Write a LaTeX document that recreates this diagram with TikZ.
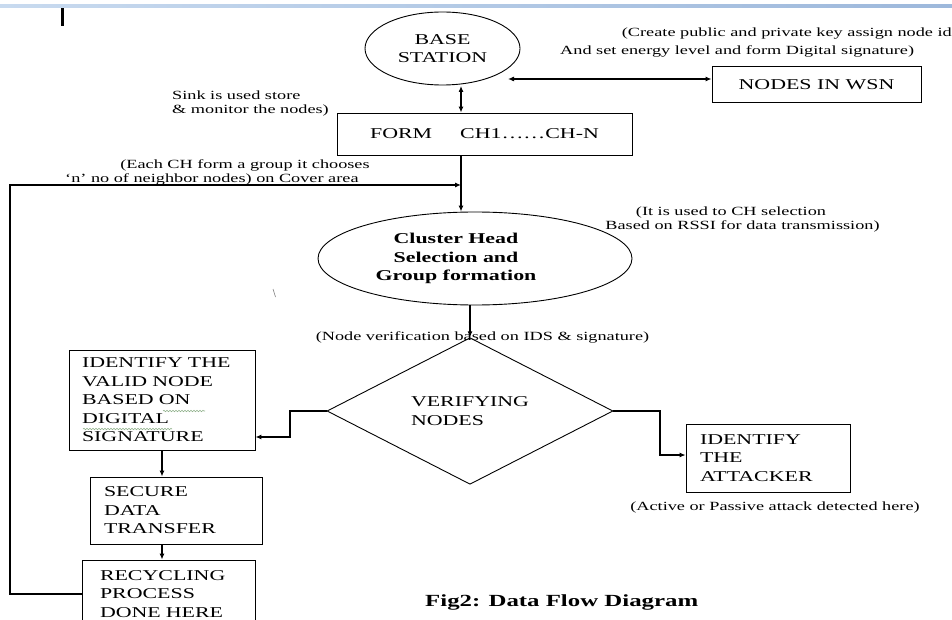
\documentclass[tikz,border=0pt]{standalone}
\usepackage{fontspec}
\setmainfont{Liberation Serif}[FakeStretch=1.46]
\usetikzlibrary{shapes.geometric,arrows.meta,decorations.pathmorphing}
\newcommand\bodytxt{\fontsize{15pt}{18.5pt}\selectfont}
\newcommand\smalltxt{\fontsize{12.5pt}{14pt}\selectfont}
\newcommand\titletxt{\fontsize{17pt}{20pt}\selectfont\bfseries}
\definecolor{bandL}{HTML}{C8DAEF}
\definecolor{bandR}{HTML}{9DB8DB}
\definecolor{squig}{HTML}{8FB08A}
\begin{document}
\begin{tikzpicture}[x=1pt,y=-1pt,
  box/.style={draw, line width=0.9pt, inner sep=0pt, font=\bodytxt},
  ell/.style={draw, ellipse, line width=0.9pt, inner sep=0pt, align=center, font=\bodytxt},
  ann/.style={inner sep=0pt, font=\smalltxt},
  conn/.style={line width=1.1pt},
  arr/.style={conn, -{Latex[length=6pt,width=5pt]}},
  darr/.style={conn, {Latex[length=6pt,width=5pt]}-{Latex[length=6pt,width=5pt]}}]
\useasboundingbox (0,0) rectangle (952,620);
% header band and mark
\shade[left color=bandL, right color=bandR] (0,4.5) rectangle (952,7.5);
\fill (61,8) rectangle (64,26);
\draw[gray, line width=0.6pt] (273,289) -- (275.5,297);
% nodes
\node[ell, minimum width=155pt, minimum height=73pt] (base) at (442.5,48.5) {BASE\\STATION};
\node[box, minimum width=209pt, minimum height=36pt] (wsn) at (816.5,84.5) {NODES IN WSN};
\node[box, minimum width=295pt, minimum height=42pt] (form) at (484.5,134) {FORM\hspace{28pt}CH1……CH-N};
\node[ell, font=\bodytxt\bfseries, minimum width=314pt, minimum height=93pt] (cluster) at (475,258.5)
  {\begin{tabular}{@{}c@{\hspace{38pt}}}Cluster Head\\Selection and\\Group formation\end{tabular}};
\node[diamond, draw, line width=0.9pt, inner sep=0pt, align=left, font=\bodytxt,
  minimum width=286pt, minimum height=98pt] (verify) at (470,411) {VERIFYING\\NODES};
\node[box, minimum width=186pt, minimum height=100pt, text width=160pt, align=left] (valid) at (162,400)
  {IDENTIFY THE\\VALID NODE\\BASED ON\\DIGITAL\\SIGNATURE};
\node[box, minimum width=172pt, minimum height=67pt, text width=144pt, align=left] (secure) at (176,510.5)
  {SECURE\\DATA\\TRANSFER};
\node[box, minimum width=173pt, minimum height=68pt, text width=137pt, align=left] (recycle) at (168.5,594)
  {RECYCLING\\PROCESS\\DONE HERE};
\node[box, minimum width=164pt, minimum height=68pt, text width=136pt, align=left] (attacker) at (768,458)
  {IDENTIFY\\THE\\ATTACKER};
% annotations
\node[ann, anchor=east] (annA) at (952,34) {(Create public and private key assign node id};
\node[ann, anchor=west] (annB) at (560,51) {And set energy level and form Digital signature)};
\node[ann, anchor=west] (sinkA) at (172,95) {Sink is used store};
\node[ann, anchor=west] (sinkB) at (172,110) {\& monitor the nodes)};
\node[ann] (eachA) at (245,165) {(Each CH form a group it chooses};
\node[ann, anchor=west] (eachB) at (65,179) {‘n’ no of neighbor nodes) on Cover area};
\node[ann] (rssiA) at (731,212) {(It is used to CH selection};
\node[ann] (rssiB) at (742.5,226) {Based on RSSI for data transmission)};
\node[ann] (nodever) at (482.5,337) {(Node verification based on IDS \& signature)};
\node[ann] (active) at (775,507) {(Active or Passive attack detected here)};
\node[inner sep=0pt, font=\titletxt, anchor=west] (fig) at (425,602) {Fig2: Data Flow Diagram};
% spell-check squiggles
\draw[squig, line width=0.6pt, decorate, decoration={snake, amplitude=0.7pt, segment length=3pt}] (163,411) -- (205,411);
\draw[squig, line width=0.6pt, decorate, decoration={snake, amplitude=0.7pt, segment length=3pt}] (83,429) -- (172,429);
% connectors
\coordinate (h1) at (508,79);
\draw[darr] (h1) -- (h1 -| wsn.west);
\coordinate (v1) at (461,86);
\draw[darr] (v1) -- (v1 |- form.north);
\draw[arr] (v1 |- form.south) -- (v1 |- cluster.north);
\coordinate (loopL) at (10,185);
\draw[arr] (recycle.west) -| (loopL) -- (loopL -| v1);
\draw[arr] (cluster.south -| verify.north) -- (verify.north);
\coordinate (lb) at (290,437);
\draw[arr] (verify.west) -| (lb) -- (lb -| valid.east);
\coordinate (rb) at (660,455);
\draw[arr] (verify.east) -| (rb) -- (rb -| attacker.west);
\draw[arr] (valid.south) -- (valid.south |- secure.north);
\draw[arr] (valid.south |- secure.south) -- (valid.south |- recycle.north);
\end{tikzpicture}
\end{document}
